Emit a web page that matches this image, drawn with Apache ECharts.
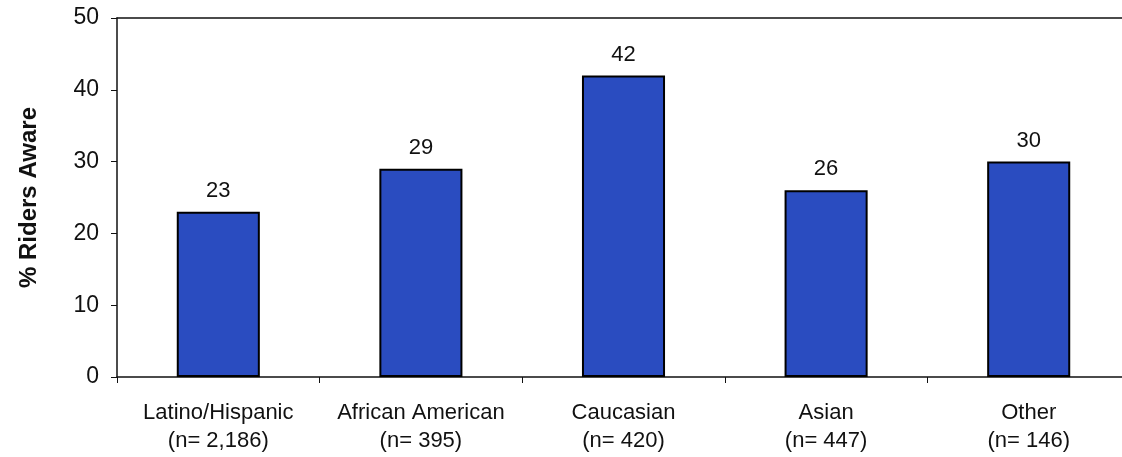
<!DOCTYPE html>
<html>
<head>
<meta charset="utf-8">
<script src="https://cdn.jsdelivr.net/npm/echarts@6/dist/echarts.min.js"></script>
<style>
  html, body { margin: 0; padding: 0; background: #fff; }
  #chart { width: 1122px; height: 457px; }
</style>
</head>
<body>
<div id="chart"></div>
<script>
const categories = ['Latino/Hispanic\n(n= 2,186)', 'African American\n(n= 395)', 'Caucasian\n(n= 420)', 'Asian\n(n= 447)', 'Other\n(n= 146)']
const pctAware = [23, 29, 42, 26, 30]
const yTicks = { min: 0, max: 50, interval: 10 }

const font = '"Liberation Sans", Arial, sans-serif'
const chart = echarts.init(document.getElementById('chart'))

chart.setOption({
  animation: false,
  textStyle: { fontFamily: font },
  grid: {
    left: 117, right: -8, top: 18, bottom: 80,
    outerBoundsMode: 'none'
  },
  xAxis: [{
    type: 'category',
    data: categories,
    axisLine: { lineStyle: { color: '#111', width: 1.5 } },
    axisTick: { show: true, length: 6, alignWithLabel: false, lineStyle: { color: '#111' } },
    axisLabel: { color: '#111', fontSize: 22, lineHeight: 28, margin: 22, interval: 0, fontFamily: font }
  }, {
    // plain frame line along the top edge
    type: 'category',
    position: 'top',
    data: categories,
    axisLine: { lineStyle: { color: '#111', width: 1.5 } },
    axisTick: { show: false },
    axisLabel: { show: false }
  }],
  yAxis: {
    type: 'value',
    min: yTicks.min, max: yTicks.max, interval: yTicks.interval,
    name: '% Riders Aware',
    nameLocation: 'middle',
    nameGap: 76,
    nameTextStyle: { color: '#111', fontSize: 24, fontWeight: 'bold', fontFamily: font },
    axisLine: { show: true, lineStyle: { color: '#111', width: 1.5 } },
    axisTick: { show: true, length: 6, lineStyle: { color: '#111' } },
    axisLabel: { color: '#111', fontSize: 23, margin: 18, fontFamily: font },
    splitLine: { show: false }
  },
  series: [{
    type: 'bar',
    data: pctAware,
    barWidth: '41%',
    itemStyle: { color: '#2a4cc0', borderColor: '#000', borderWidth: 2 },
    label: { show: true, position: 'top', distance: 10, color: '#111', fontSize: 22, fontFamily: font }
  }]
})
</script>
</body>
</html>
